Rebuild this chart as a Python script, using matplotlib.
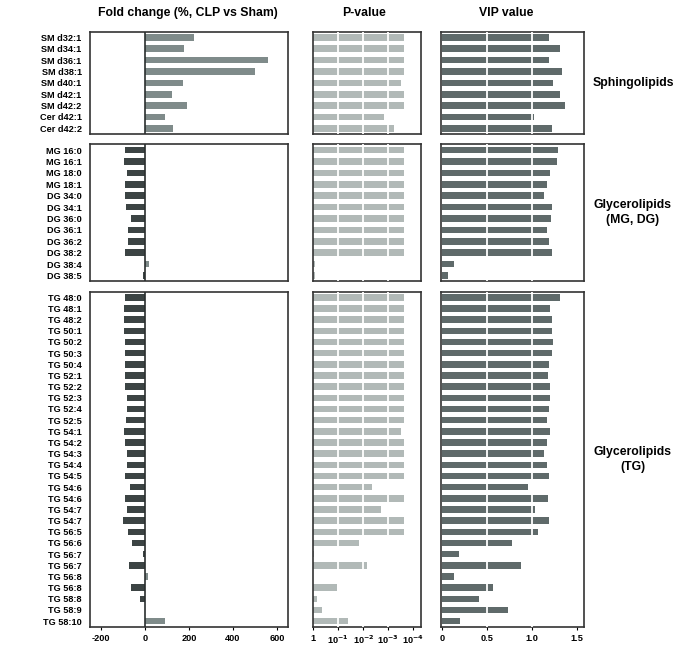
import matplotlib
matplotlib.use("Agg")
import matplotlib.pyplot as plt
import numpy as np

plt.rcParams['font.family'] = ['Liberation Sans', 'DejaVu Sans']
plt.rcParams['font.weight'] = 'bold'
plt.rcParams['mathtext.default'] = 'bf'
plt.rcParams['axes.unicode_minus'] = False

# ---- data ----
sm_names = ["SM d32:1", "SM d34:1", "SM d36:1", "SM d38:1", "SM d40:1",
            "SM d42:1", "SM d42:2", "Cer d42:1", "Cer d42:2"]
sm_fold = [223, 177, 557, 501, 172, 121, 189, 89, 125]
sm_logp = [3.62, 3.62, 3.62, 3.62, 3.50, 3.62, 3.62, 2.83, 3.22]
sm_vip = [1.19, 1.32, 1.19, 1.34, 1.235, 1.31, 1.366, 1.02, 1.22]

gl_names = ["MG 16:0", "MG 16:1", "MG 18:0", "MG 18:1", "DG 34:0", "DG 34:1",
            "DG 36:0", "DG 36:1", "DG 36:2", "DG 38:2", "DG 38:4", "DG 38:5"]
gl_fold = [-92, -95, -84, -92, -90, -87, -63, -78, -79, -89, 20, -8]
gl_logp = [3.62] * 10 + [0.05, 0.08]
gl_vip = [1.29, 1.276, 1.205, 1.164, 1.138, 1.22, 1.213, 1.164, 1.19, 1.23, 0.13, 0.067]

tg_names = ["TG 48:0", "TG 48:1", "TG 48:2", "TG 50:1", "TG 50:2", "TG 50:3",
            "TG 50:4", "TG 52:1", "TG 52:2", "TG 52:3", "TG 52:4", "TG 52:5",
            "TG 54:1", "TG 54:2", "TG 54:3", "TG 54:4", "TG 54:5", "TG 54:6",
            "TG 54:6", "TG 54:7", "TG 54:7", "TG 56:5", "TG 56:6", "TG 56:7",
            "TG 56:7", "TG 56:8", "TG 56:8", "TG 58:8", "TG 58:9", "TG 58:10"]
tg_fold = [-92, -95, -95, -95, -93, -92, -92, -93, -92, -84, -84, -85,
           -95, -90, -82, -82, -89, -69, -93, -81, -98, -76, -61, -8,
           -75, 14, -63, -21, -2, 90]
tg_logp = [3.62] * 12 + [3.50, 3.62, 3.62, 3.62, 3.62, 2.37, 3.62, 2.73, 3.62,
                         3.62, 1.84, 0.04, 2.16, 0.0, 0.95, 0.16, 0.34, 1.39]
tg_vip = [1.32, 1.20, 1.23, 1.23, 1.24, 1.23, 1.19, 1.18, 1.20, 1.20, 1.19, 1.17,
          1.20, 1.17, 1.14, 1.17, 1.19, 0.96, 1.18, 1.03, 1.19, 1.07, 0.78, 0.18,
          0.88, 0.13, 0.56, 0.41, 0.73, 0.20]

groups = [
    (sm_names, sm_fold, sm_logp, sm_vip, "Sphingolipids"),
    (gl_names, gl_fold, gl_logp, gl_vip, "Glycerolipids\n(MG, DG)"),
    (tg_names, tg_fold, tg_logp, tg_vip, "Glycerolipids\n(TG)"),
]

pos_col = '#7f8b8a'
neg_col = '#3c4444'
p_col = '#b1b9b7'
vip_col = '#5f6a6a'
edge = '#333333'

W, H = 693, 649
fig = plt.figure(figsize=(W / 100, H / 100), dpi=100)


def px_axes(x0, y0, x1, y1):
    return fig.add_axes([x0 / W, 1 - y1 / H, (x1 - x0) / W, (y1 - y0) / H])


rows_px = [(31.7, 134.0), (144.3, 281.3), (291.7, 626.7)]
cols_px = [(90, 288), (313.3, 420.7), (440.7, 583.7)]

for gi, (names, fold, logp, vip, label) in enumerate(groups):
    y0, y1 = rows_px[gi]
    n = len(names)
    y = np.arange(n)
    last = gi == len(groups) - 1

    # fold change
    ax = px_axes(cols_px[0][0], y0, cols_px[0][1], y1)
    fold = np.array(fold)
    ax.barh(y, fold, height=0.58, color=np.where(fold > 0, pos_col, neg_col))
    ax.axvline(0, color='#2a2f2f', lw=1.2, zorder=3)
    ax.set_xlim(-250, 650)
    ax.set_yticks(y)
    ax.set_yticklabels(names, fontsize=6.6, fontweight='bold')

    # p-value
    axp = px_axes(cols_px[1][0], y0, cols_px[1][1], y1)
    axp.barh(y, logp, height=0.58, color=p_col)
    for v in [1, 2, 3]:
        axp.axvline(v, color='white', lw=1.3, zorder=3)
    axp.set_xlim(0, 4.3)
    axp.set_yticks([])

    # VIP
    axv = px_axes(cols_px[2][0], y0, cols_px[2][1], y1)
    axv.barh(y, vip, height=0.58, color=vip_col)
    for v in [0.5, 1.0]:
        axv.axvline(v, color='white', lw=1.3, zorder=3)
    axv.set_xlim(-0.02, 1.58)
    axv.set_yticks([])

    for a in (ax, axp, axv):
        a.set_ylim(n - 0.5, -0.5)
        a.tick_params(axis='y', length=0, pad=6)
        for s in a.spines.values():
            s.set_color(edge)
            s.set_linewidth(1.2)
        if last:
            a.tick_params(axis='x', length=2.5, width=0.8, labelsize=6.6, pad=2.5)
        else:
            a.set_xticks([])

    if last:
        ax.set_xticks([-200, 0, 200, 400, 600])
        axp.set_xticks([0, 1, 2, 3, 4])
        axp.set_xticklabels(['1', '10$^{-1}$', '10$^{-2}$', '10$^{-3}$', '10$^{-4}$'])
        axv.set_xticks([0, 0.5, 1.0, 1.5])
        axv.set_xticklabels(['0', '0.5', '1.0', '1.5'])
        for a in (ax, axp, axv):
            for t in a.get_xticklabels():
                t.set_fontweight('bold')

    fig.text(633 / W, 1 - ((y0 + y1) / 2) / H, label, ha='center', va='center',
             fontsize=8.8, fontweight='bold', linespacing=1.3)

fig.text(188 / W, 1 - 13 / H, "Fold change (%, CLP vs Sham)", ha='center',
         va='center', fontsize=8.8, fontweight='bold')
fig.text(364 / W, 1 - 13 / H, "P-value", ha='center', va='center',
         fontsize=8.8, fontweight='bold')
fig.text(506 / W, 1 - 13 / H, "VIP value", ha='center', va='center',
         fontsize=8.8, fontweight='bold')

fig.savefig("out.png", dpi=100, facecolor='white')
